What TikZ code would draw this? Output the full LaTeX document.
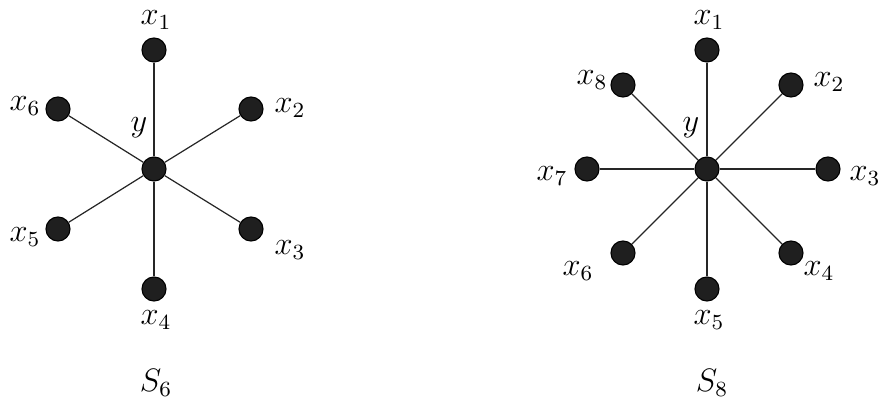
\documentclass[tikz,border=0pt]{standalone}
\usepackage{amsmath}
\usepackage{xcolor}
\usetikzlibrary{positioning}

\begin{document}
\begin{tikzpicture}[
        x=0.37pt, y=-0.37pt,
        vert/.style={circle, draw=black, fill=black!88, minimum size=8.9pt, inner sep=0pt, line width=0.4pt},
        lab/.style={inner sep=0pt, font=\large},
        edge/.style={-, line width=0.45pt, black!85}
    ]
    \useasboundingbox (0,0) rectangle (883,408);

    % S6 - vertices
    \node[vert] (ya) at (154,169) {};
    \node[vert] (a1) at (154,50) {};
    \node[vert] (a2) at (251,109) {};
    \node[vert] (a3) at (251,229) {};
    \node[vert] (a4) at (154,289) {};
    \node[vert] (a5) at (58,229) {};
    \node[vert] (a6) at (58,109) {};

    % S6 - labels
    \node[lab] (la1) at (156,20) {$x_1$};
    \node[lab] (la2) at (290,108) {$x_2$};
    \node[lab] (la3) at (290,250) {$x_3$};
    \node[lab] (la4) at (156,320) {$x_4$};
    \node[lab] (la5) at (25,237) {$x_5$};
    \node[lab] (la6) at (25,106) {$x_6$};
    \node[lab] (lya) at (139,128) {$y$};
    \node[lab] (s6) at (156,383) {$S_6$};

    % S6 - edges
    \draw[edge] (ya) -- (a1);
    \draw[edge] (ya) -- (a2);
    \draw[edge] (ya) -- (a3);
    \draw[edge] (ya) -- (a4);
    \draw[edge] (ya) -- (a5);
    \draw[edge] (ya) -- (a6);

    % S8 - vertices
    \node[vert] (yb) at (707,169) {};
    \node[vert] (b1) at (707,50) {};
    \node[vert] (b2) at (791,85) {};
    \node[vert] (b3) at (828,169) {};
    \node[vert] (b4) at (791,253) {};
    \node[vert] (b5) at (707,289) {};
    \node[vert] (b6) at (623,253) {};
    \node[vert] (b7) at (587,169) {};
    \node[vert] (b8) at (623,85) {};

    % S8 - labels
    \node[lab] (lb1) at (709,20) {$x_1$};
    \node[lab] (lb2) at (829,82) {$x_2$};
    \node[lab] (lb3) at (865,176) {$x_3$};
    \node[lab] (lb4) at (819,271) {$x_4$};
    \node[lab] (lb5) at (709,320) {$x_5$};
    \node[lab] (lb6) at (578,271) {$x_6$};
    \node[lab] (lb7) at (552,176) {$x_7$};
    \node[lab] (lb8) at (592,80) {$x_8$};
    \node[lab] (lyb) at (691,128) {$y$};
    \node[lab] (s8) at (712,383) {$S_8$};

    % S8 - edges
    \draw[edge] (yb) -- (b1);
    \draw[edge] (yb) -- (b2);
    \draw[edge] (yb) -- (b3);
    \draw[edge] (yb) -- (b4);
    \draw[edge] (yb) -- (b5);
    \draw[edge] (yb) -- (b6);
    \draw[edge] (yb) -- (b7);
    \draw[edge] (yb) -- (b8);

    \end{tikzpicture}
\end{document}
